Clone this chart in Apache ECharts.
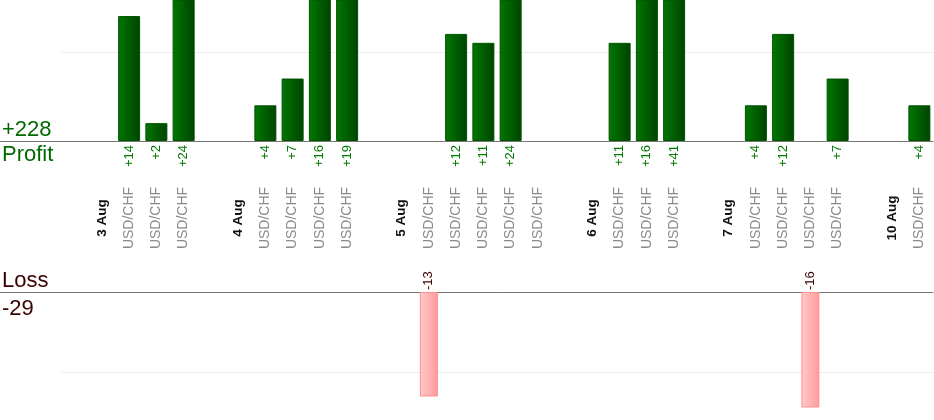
<!DOCTYPE html>
<html>
<head>
<meta charset="utf-8">
<style>html,body{margin:0;padding:0;background:#fff}#c{width:934px;height:420px}</style>
<script src="https://cdn.jsdelivr.net/npm/echarts@6/dist/echarts.min.js"></script>
</head>
<body>
<div id="c"></div>
<script>
// ---- data ----
var categories = ['', '3 Aug', 'USD/CHF', 'USD/CHF', 'USD/CHF',
  '', '4 Aug', 'USD/CHF', 'USD/CHF', 'USD/CHF', 'USD/CHF',
  '', '5 Aug', 'USD/CHF', 'USD/CHF', 'USD/CHF', 'USD/CHF', 'USD/CHF',
  '', '6 Aug', 'USD/CHF', 'USD/CHF', 'USD/CHF',
  '', '7 Aug', 'USD/CHF', 'USD/CHF', 'USD/CHF', 'USD/CHF',
  '', '10 Aug', 'USD/CHF'];
var profit = [null, null, 14, 2, 24,
  null, null, 4, 7, 16, 19,
  null, null, null, 12, 11, 24, null,
  null, null, 11, 16, 41,
  null, null, 4, 12, null, 7,
  null, null, 4];
var loss = [null, null, null, null, null,
  null, null, null, null, null, null,
  null, null, -13, null, null, null, null,
  null, null, null, null, null,
  null, null, null, null, -16, null,
  null, null, null];
var profitTicks = [0, 10];
var lossTicks = [0, 10];

// ---- layout ----
var LEFT = 61, RIGHT = 1;
var TOP_T = 0, TOP_H = 141;         // profit panel, baseline at TOP_T+TOP_H
var BOT_T = 292, BOT_H = 115;       // loss panel, baseline at BOT_T
var BASE1 = TOP_T + TOP_H;
var FONT = 'Liberation Sans, Arial, sans-serif';
var GREEN = '#006a00', MAROON = '#3a0000';

var totalProfit = profit.reduce(function (a, v) { return a + (v || 0); }, 0);
var totalLoss = loss.reduce(function (a, v) { return a + (v || 0); }, 0);

var chart = echarts.init(document.getElementById('c'), null, {renderer: 'canvas'});
chart.setOption({
  animation: false,
  backgroundColor: '#fff',
  textStyle: {fontFamily: FONT},
  grid: [
    {left: LEFT, right: RIGHT, top: TOP_T, height: TOP_H},
    {left: LEFT, right: RIGHT, top: BOT_T, height: BOT_H},
    {left: 0, width: LEFT, top: TOP_T, height: TOP_H},
    {left: 0, width: LEFT, top: BOT_T, height: BOT_H}
  ],
  xAxis: [
    {gridIndex: 0, type: 'category', data: categories, boundaryGap: true,
      axisLine: {show: true, lineStyle: {color: '#777', width: 1}},
      axisTick: {show: false},
      axisLabel: {
        interval: 0, rotate: 90, align: 'center', verticalAlign: 'middle', margin: 77,
        formatter: function (v) {
          if (!v) return '';
          return v.indexOf('/') >= 0 ? '{p|' + v + '}' : '{d|' + v + '}';
        },
        rich: {
          p: {color: '#8a8a8a', fontSize: 14, fontFamily: FONT},
          d: {color: '#111', fontSize: 13.5, fontWeight: 'bold', fontFamily: FONT}
        }
      }
    },
    {gridIndex: 1, type: 'category', data: categories, position: 'top',
      axisLine: {show: true, onZero: false, lineStyle: {color: '#777', width: 1}},
      axisTick: {show: false}, axisLabel: {show: false}
    },
    {gridIndex: 2, type: 'category', data: [''],
      axisLine: {show: true, lineStyle: {color: '#777', width: 1}},
      axisTick: {show: false}, axisLabel: {show: false}
    },
    {gridIndex: 3, type: 'category', data: [''], position: 'top',
      axisLine: {show: true, onZero: false, lineStyle: {color: '#777', width: 1}},
      axisTick: {show: false}, axisLabel: {show: false}
    }
  ],
  yAxis: [
    {gridIndex: 0, type: 'value', min: profitTicks[0], max: 15.8,
      interval: profitTicks[1] - profitTicks[0],
      axisLine: {show: false}, axisTick: {show: false}, axisLabel: {show: false},
      splitLine: {show: true, showMaxLine: false, lineStyle: {color: '#ececec', width: 1}}
    },
    {gridIndex: 1, type: 'value', inverse: true, min: lossTicks[0], max: 14.3,
      interval: lossTicks[1] - lossTicks[0],
      axisLine: {show: false}, axisTick: {show: false}, axisLabel: {show: false},
      splitLine: {show: true, showMaxLine: false, lineStyle: {color: '#ececec', width: 1}}
    },
    {gridIndex: 2, type: 'value', show: false, min: 0, max: 1},
    {gridIndex: 3, type: 'value', show: false, min: 0, max: 1}
  ],
  series: [
    {
      type: 'bar', xAxisIndex: 0, yAxisIndex: 0, data: profit, barWidth: 22,
      itemStyle: {
        color: new echarts.graphic.LinearGradient(0, 0, 1, 0, [
          {offset: 0, color: '#007800'}, {offset: 1, color: '#004300'}]),
        borderColor: '#005200', borderWidth: 1
      },
      label: {
        show: true, position: 'bottom', distance: 4, rotate: 90,
        align: 'right', verticalAlign: 'middle',
        color: '#007a00', fontSize: 13, fontFamily: FONT,
        formatter: function (p) { return '+' + p.value; }
      }
    },
    {
      type: 'bar', xAxisIndex: 1, yAxisIndex: 1, barWidth: 18,
      data: loss.map(function (v) { return v == null ? null : Math.abs(v); }),
      itemStyle: {
        color: new echarts.graphic.LinearGradient(0, 0, 1, 0, [
          {offset: 0, color: '#ffcaca'}, {offset: 1, color: '#ff9a9a'}]),
        borderColor: '#ff9090', borderWidth: 1
      },
      label: {
        show: true, position: 'top', distance: 2, rotate: 90,
        align: 'left', verticalAlign: 'middle',
        color: MAROON, fontSize: 13, fontFamily: FONT,
        formatter: function (p) { return String(loss[p.dataIndex]); }
      }
    }
  ],
  graphic: [
    {type: 'text', left: 2, top: BASE1 - 22,
      style: {text: '+' + totalProfit, font: '22px ' + FONT, fill: GREEN}},
    {type: 'text', left: 2, top: BASE1 + 3,
      style: {text: 'Profit', font: '22px ' + FONT, fill: GREEN}},
    {type: 'text', left: 2, top: BOT_T - 22,
      style: {text: 'Loss', font: '22px ' + FONT, fill: MAROON}},
    {type: 'text', left: 2, top: BOT_T + 6,
      style: {text: String(totalLoss), font: '22px ' + FONT, fill: MAROON}}
  ]
});
</script>
</body>
</html>
